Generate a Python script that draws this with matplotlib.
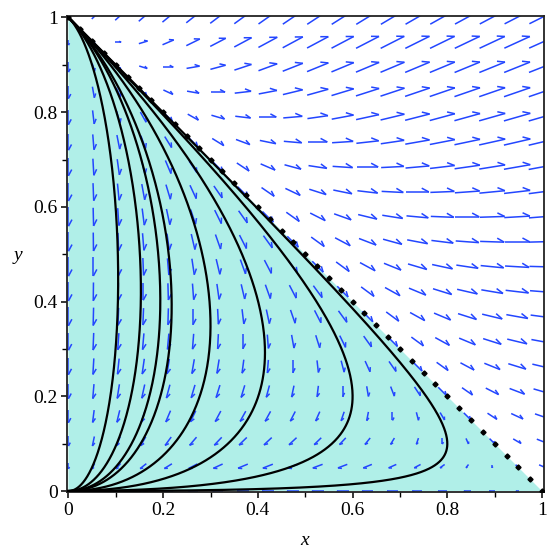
import numpy as np
import matplotlib
matplotlib.use("Agg")
import matplotlib.pyplot as plt
from matplotlib.collections import LineCollection

# x' = x*(ax*x + bx*y + cx),  y' = y*(ay*x + by*y + cy)
ax_, bx_, cx_ = 1.0, 2.0, -1.0
ay_, by_, cy_ = 1.0, 2.0, -2.0

# turning points (max x) of the drawn trajectories
tip_x = [0.105, 0.153, 0.194, 0.218, 0.300, 0.415, 0.600, 0.800]
tip_y = [0.447, 0.424, 0.403, 0.391, 0.350, 0.292, 0.200, 0.100]

tick_vals = [0, 0.2, 0.4, 0.6, 0.8, 1]
tick_labels = ["0", "0.2", "0.4", "0.6", "0.8", "1"]
ngrid = 20


def field(p):
    x, y = p
    return np.array([x * (ax_ * x + bx_ * y + cx_), y * (ay_ * x + by_ * y + cy_)])


def integrate(p0, dt, n):
    pts = [np.array(p0, float)]
    p = pts[0]
    for _ in range(n):
        k1 = field(p)
        k2 = field(p + dt / 2 * k1)
        k3 = field(p + dt / 2 * k2)
        k4 = field(p + dt * k3)
        p = p + dt / 6 * (k1 + 2 * k2 + 2 * k3 + k4)
        pts.append(p)
    return np.array(pts)


plt.rcParams['font.family'] = ['Liberation Serif', 'DejaVu Serif']
fig = plt.figure(figsize=(5.55, 5.55), dpi=100)
ax = fig.add_axes([0.1216, 0.1135, 0.8586, 0.8568])
ax.set_xlim(-0.002, 1.0042)
ax.set_ylim(-0.002, 1.002)

# shaded triangle
ax.fill([0, 1, 0], [0, 0, 1], color='#b0efe8', lw=0, zorder=1)

# direction field
g = np.linspace(0, 1, ngrid)
segs = []
Lmax = 0.06
for xi in g:
    for yj in g:
        u, v = field((xi, yj))
        m = np.hypot(u, v)
        if m < 1e-9:
            continue
        d = np.array([u, v]) / m
        L = Lmax * (1 - np.exp(-m / 0.45))
        c = np.array([xi, yj])
        tail = c - d * L / 2
        tip = c + d * L / 2
        back = -d
        ang = np.deg2rad(-28)
        rot = np.array([back[0] * np.cos(ang) - back[1] * np.sin(ang),
                        back[0] * np.sin(ang) + back[1] * np.cos(ang)])
        hl = min(0.017, 0.4 * L)
        segs.append([tail, tip])
        segs.append([tip, tip + rot * hl])
ax.add_collection(LineCollection(segs, colors='#2346ff', linewidths=1.1, zorder=2))

# trajectories through the turning points
for x0, y0 in zip(tip_x, tip_y):
    fwd = integrate((x0, y0), 0.01, 3500)
    bwd = integrate((x0, y0), -0.01, 3500)
    cur = np.vstack([bwd[::-1], fwd[1:]])
    ax.plot(cur[:, 0], cur[:, 1], color='black', lw=1.6, zorder=3)

# invariant line x + y = 1
dx = np.linspace(0, 1, 41)
ax.plot(dx, 1 - dx, ls='none', marker='D', ms=2.6, color='black', zorder=4)

for s in ax.spines.values():
    s.set_linewidth(1.3)
    s.set_color('#222222')

ax.set_xticks(tick_vals)
ax.set_xticklabels(tick_labels)
ax.set_yticks(tick_vals)
ax.set_yticklabels(tick_labels)
ax.set_xticks(np.arange(0.1, 1.0, 0.2), minor=True)
ax.set_yticks(np.arange(0.1, 1.0, 0.2), minor=True)
ax.tick_params(which='both', direction='out', top=False, right=False, labelsize=14)
ax.tick_params(which='major', length=4, width=1.1, pad=3)
ax.tick_params(which='minor', length=3.5, width=1.0)

ax.set_xlabel('x', fontsize=14, style='italic')
ax.xaxis.set_label_coords(0.498, -0.085)
ax.set_ylabel('y', fontsize=14, style='italic', rotation=0)
ax.yaxis.set_label_coords(-0.104, 0.48)

fig.savefig('out.png', dpi=100)
